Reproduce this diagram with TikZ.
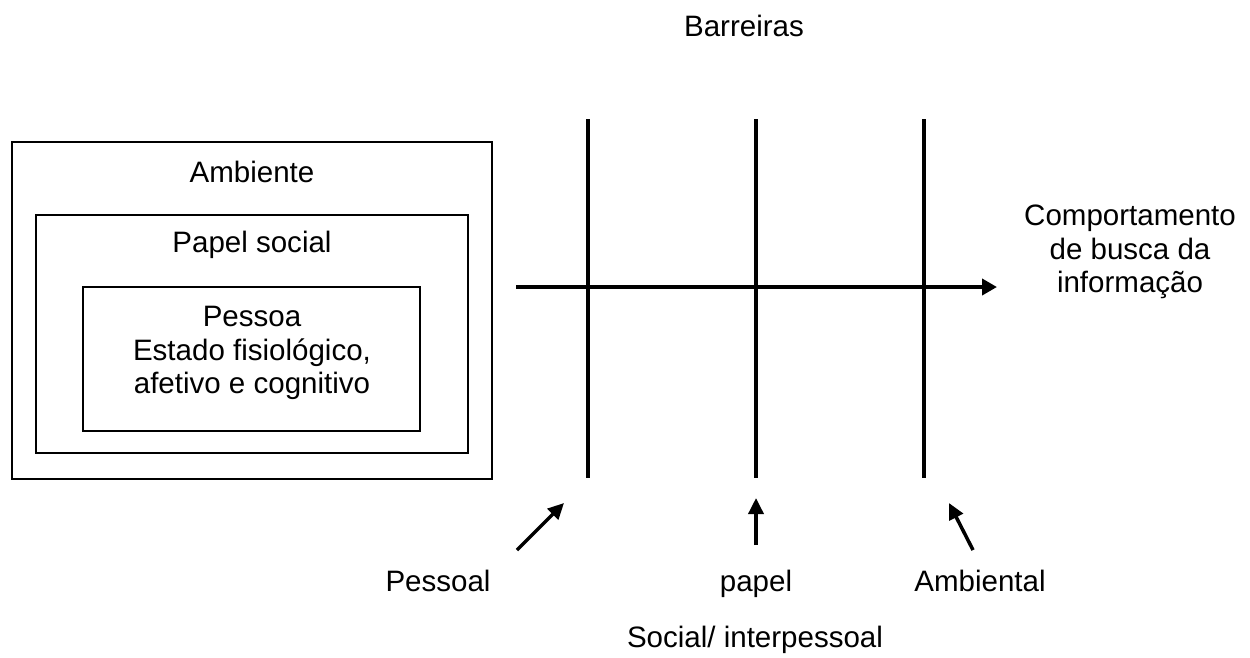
\documentclass[tikz,border=0pt]{standalone}
\usepackage{fontspec}
\setmainfont{Liberation Sans}
\usetikzlibrary{arrows.meta}

\tikzset{
	caixa/.style={line width=0.04cm},
	barreira/.style={line width=0.08cm},
	seta/.style={line width=0.07cm, -{Triangle[length=0.32cm,width=0.3cm]}},
	rotulo/.style={font=\fontsize{16.8}{18.9}\selectfont, align=center, inner sep=0pt},
}

\begin{document}
\begin{tikzpicture}[x=0.02cm,y=-0.02cm]
			%%%%% START %%%%%
			
			\useasboundingbox (0,0) rectangle (1250,657);
			
			\draw[caixa] (12,142) rectangle (492,479);
			\draw[caixa] (36,215) rectangle (468,453);
			\draw[caixa] (83,287) rectangle (420,431);
			
			\node[rotulo, anchor=base] (ambiente) at (252,182) {Ambiente};
			\node[rotulo, anchor=base] (papelsocial) at (252,252) {Papel social};
			\node[rotulo] (pessoa) at (252,353) {Pessoa\\Estado fisiológico,\\afetivo e cognitivo};
			
			\node[rotulo, anchor=base] (barreiras) at (744,36) {Barreiras};
			
			\coordinate (pessoalT) at (588,119);
			\coordinate (pessoalB) at (588,478);
			\coordinate (socialT) at (756,119);
			\coordinate (socialB) at (756,478);
			\coordinate (ambientalT) at (924,119);
			\coordinate (ambientalB) at (924,478);
			
			\draw[barreira] (pessoalT) -- (pessoalB);
			\draw[barreira] (socialT) -- (socialB);
			\draw[barreira] (ambientalT) -- (ambientalB);
			
			\coordinate (inicio) at (516,287);
			\coordinate (fim) at (997,287);
			\draw[barreira, -{Triangle[length=0.3cm,width=0.32cm]}] (inicio) -- (fim);
			
			\node[rotulo] (comportamento) at (1130,252) {Comportamento\\de busca da\\informação};
			
			\node[rotulo, anchor=base] (pessoal) at (438,591) {Pessoal};
			\node[rotulo, anchor=base] (papel) at (756,591) {papel};
			\node[rotulo, anchor=base] (ambiental) at (980,591) {Ambiental};
			\node[rotulo, anchor=base] (social) at (755,647) {Social/ interpessoal};
			
			\coordinate (pessoalS) at (517,550);
			\coordinate (pessoalP) at (564,503);
			\draw[seta] (pessoalS) -- (pessoalP);
			
			\coordinate (papelS) at (756,545);
			\coordinate (papelP) at (756,498);
			\draw[seta] (papelS) -- (papelP);
			
			\coordinate (ambientalS) at (973,550);
			\coordinate (ambientalP) at (949,503);
			\draw[seta] (ambientalS) -- (ambientalP);
			
			%%%%% END %%%%%
\end{tikzpicture}
\end{document}
